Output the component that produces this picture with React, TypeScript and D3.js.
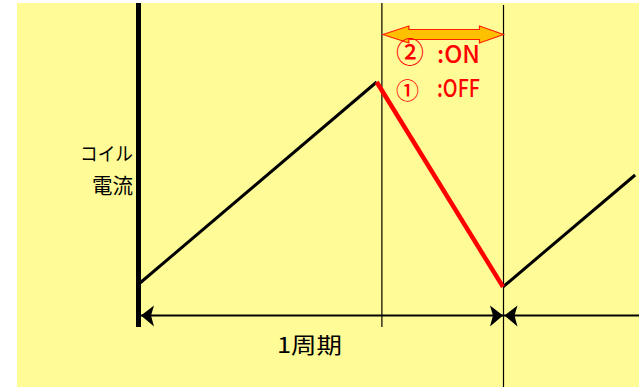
import React from "react";
import * as d3 from "d3";

// Waveform (coil current) over time; t in periods, current in arbitrary units
const riseTimes = [0, 0.652];
const riseCurrent = [14, 81];
const fallTimes = [0.652, 1];
const fallCurrent = [81, 12.7];
const nextTimes = [1, 1.364];
const nextCurrent = [12.7, 50];

const markerTimes = [0, 0.665, 1]; // axis, switch line, period end
const labels = { yLabel1: "コイル", yLabel2: "電流", period: "1周期" };
const stateMarks = ["②", "①"];
const stateTexts = [":ON", ":OFF"];

const W = 639;
const H = 387;

export default function App() {
  const x = d3.scaleLinear().domain([0, 1]).range([140, 503]);
  const y = d3.scaleLinear().domain([0, 100]).range([325, 25]);
  const line = d3
    .line<[number, number]>()
    .x((d) => x(d[0]))
    .y((d) => y(d[1]));
  const zip = (a: number[], b: number[]) => a.map((v, i) => [v, b[i]] as [number, number]);

  const axisX = x(markerTimes[0]) - 1.5;
  const switchX = x(markerTimes[1]) + 0.5;
  const endX = x(markerTimes[2]) + 0.5;
  const arrowY = 315.5;

  // orange double arrow between switchX and endX
  const ay = 34.5;
  const L = switchX + 1;
  const R = endX;
  const orangeArrow = [
    [L, ay],
    [L + 26, ay - 8.5],
    [L + 26, ay - 5],
    [R - 24, ay - 5],
    [R - 24, ay - 8.5],
    [R, ay],
    [R - 24, ay + 8.5],
    [R - 24, ay + 5],
    [L + 26, ay + 5],
    [L + 26, ay + 8.5],
  ]
    .map((p) => p.join(","))
    .join(" ");

  const headL = (tx: number) => `M${tx},${arrowY} L${tx + 13},${arrowY - 10} L${tx + 10},${arrowY} L${tx + 13},${arrowY + 11} Z`;
  const headR = (tx: number) => `M${tx},${arrowY} L${tx - 13},${arrowY - 10} L${tx - 10},${arrowY} L${tx - 13},${arrowY + 11} Z`;

  const stateY = [63, 97];
  const markSize = [28, 23];
  const markY = [63, 99];

  return (
    <div style={{ position: "fixed", left: 0, top: 0 }}>
      <svg width={W} height={H} style={{ display: "block" }}>
        <rect x={0} y={0} width={W} height={H} fill="#ffffff" />
        <rect x={17} y={3} width={W - 17} height={H - 3} fill="#FFFB97" />
        {/* vertical lines */}
        <line x1={axisX} x2={axisX} y1={3} y2={327} stroke="#000" strokeWidth={5} />
        <line x1={switchX} x2={switchX} y1={3} y2={327} stroke="#000" strokeWidth={1.2} />
        <line x1={endX} x2={endX} y1={5} y2={H} stroke="#000" strokeWidth={1.2} />
        {/* period arrows */}
        <line x1={axisX + 2} x2={W} y1={arrowY} y2={arrowY} stroke="#000" strokeWidth={2} />
        <path d={headL(axisX + 2.5)} fill="#000" />
        <path d={headR(endX - 0.5)} fill="#000" />
        <path d={headL(endX + 1)} fill="#000" />
        {/* waveform */}
        <path d={line(zip(riseTimes, riseCurrent)) || ""} fill="none" stroke="#000" strokeWidth={3} strokeLinejoin="round" />
        <path d={line(zip(nextTimes, nextCurrent)) || ""} fill="none" stroke="#000" strokeWidth={3} />
        <path d={line(zip(fallTimes, fallCurrent)) || ""} fill="none" stroke="#ff0000" strokeWidth={4.5} />
        {/* orange double arrow */}
        <polygon points={orangeArrow} fill="#FFC000" stroke="#ff2000" strokeWidth={1.2} />
        {/* texts */}
        <g fontFamily="'Noto Sans CJK JP', sans-serif" fill="#000">
          <text x={133} y={161} fontSize={19} textAnchor="end" textLength={53} lengthAdjust="spacingAndGlyphs">
            {labels.yLabel1}
          </text>
          <text x={133} y={193} fontSize={21} textAnchor="end" textLength={41} lengthAdjust="spacingAndGlyphs">
            {labels.yLabel2}
          </text>
          <text x={277} y={353} fontSize={22} textLength={65} lengthAdjust="spacingAndGlyphs">
            {labels.period}
          </text>
        </g>
        <g fontFamily="'Noto Sans CJK JP', sans-serif" fill="#ff0000" fontWeight={500}>
          {stateMarks.map((m, i) => (
            <text key={m} x={396} y={markY[i]} fontSize={markSize[i]}>
              {m}
            </text>
          ))}
          {stateTexts.map((t, i) => (
            <text key={t} x={437} y={stateY[i]} fontSize={24} textLength={43} lengthAdjust="spacingAndGlyphs">
              {t}
            </text>
          ))}
        </g>
      </svg>
    </div>
  );
}
